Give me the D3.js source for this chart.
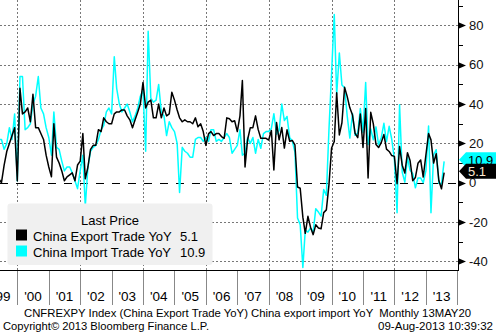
<!DOCTYPE html>
<html><head><meta charset="utf-8">
<script src="https://cdn.jsdelivr.net/npm/d3@7"></script>
<style>html,body{margin:0;padding:0;background:#fff;} svg{display:block;}</style>
</head><body>
<svg id="c" width="496" height="334"></svg>
<script>
// Monthly series, first value = May 1999, last value = Jul 2013 (plotted at month end)
const startYear = 1999, startMonth = 4;
const exportYoY = [
 2,0,9,16,20,24,28,1,
 48,35,36,38,31,45,28,28,25,22,14,8,
 3,30,13,10,6,1,3,4,5,1,9,11,
 25,2,8,17,19,19,27,26,33,31,30,30,
 35,36,36,37,37,34,32,28,32,36,40,51,
 38,41,42,33,33,40,33,38,34,35,46,42,
 37,33,31,32,31,31,30,33,28.5,30,26,19,
 25,26,24,25,25,23.5,22.6,33,32.5,31,31.5,26,
 34,52,8,22,28,28,34,27,22.6,22.6,22.6,21.7,
 26.6,6.5,30.6,21.8,28.1,17.6,26.9,21.1,21.5,19.2,-2.2,-2.8,
 -17.5,-25.7,-17.1,-22.6,-26.4,-21.4,-23.0,-23.4,-15.2,-13.8,-1.2,17.7,
 21.0,45.7,24.3,30.5,48.5,43.9,38.1,34.4,25.1,22.9,34.9,17.9,
 37.7,2.4,35.8,29.9,19.4,17.9,20.4,24.5,17.1,15.9,13.8,13.4,
 -0.5,18.4,8.9,4.9,15.3,11.3,1.0,2.7,9.9,11.6,2.9,14.1,
 25.0,21.8,10.0,14.7,1.0,-3.1,5.1
];
const importYoY = [
 22,22,17,20,28,22,35,1,
 54,54,27,28,30,40,44,54,38,35,28,23,
 14,36,18,17,11,6,8,8,5,1,-3,6,
 14,-12,8,16,18,19,22,27,29,36,38,35,
 64,48,40,36,38,40,36,31,34,38,44,47,
 16,77,43,41,42,50,36,34,24,31,28,26,
 20,-5,18,16,15,13,13,22,23,23,21,23,
 21,27,27,21,22,21,23,25,23,15,17,19,
 27,14,15,23,20,23,15,22,17.5,25,26,26,
 27.6,35.1,24.6,26.5,40.0,31.6,33.7,22.9,21.3,15.6,-17.9,-21.3,
 -43.1,-24.1,-25.1,-23.0,-25.2,-13.2,-14.9,-17.0,-3.5,-6.4,26.7,55.9,
 85.5,44.7,66.0,49.7,48.3,34.1,22.7,35.2,24.1,25.3,37.7,25.6,
 51.0,19.4,27.3,21.8,28.4,19.3,22.9,30.2,20.9,28.7,22.1,11.8,
 -15.3,39.6,5.3,0.3,12.7,6.3,4.7,-2.6,2.4,2.4,0.0,6.0,
 28.8,-15.2,14.1,16.8,-0.3,-0.7,10.9
];
const yearLabels = ["'99","'00","'01","'02","'03","'04","'05","'06","'07","'08","'09","'10","'11","'12","'13"];
const yTicks = [80,60,40,20,0,-20,-40];
const seriesNames = ["China Export Trade YoY","China Import Trade YoY"];
const seriesColors = ["#000000","#00ffff"];

const svg = d3.select("#c");
const plotL = 0, plotR = 458, plotT = 0, plotB = 270;
const x = d3.scaleTime().domain([new Date(2000,0,1), new Date(2014,0,1)]).range([17.3, 457.3]);
const y = d3.scaleLinear().domain([-40, 80]).range([261.4, 25.4]);
const dateOf = i => new Date(startYear, startMonth + i + 1, 1);
const font = "'Liberation Sans', Arial, sans-serif";

svg.append("defs").append("clipPath").attr("id","clip")
  .append("rect").attr("x",plotL).attr("y",plotT).attr("width",plotR-plotL).attr("height",plotB-plotT);

// horizontal gridlines
const g = svg.append("g");
yTicks.filter(v => v !== 0).forEach(v => {
  const yy = Math.round(y(v)) + 0.5;
  g.append("line").attr("x1",plotL).attr("x2",plotR).attr("y1",yy).attr("y2",yy)
    .attr("stroke","#777").attr("stroke-dasharray","2,2");
});
// vertical gridlines every two years
d3.range(2000, 2014, 2).forEach(yr => {
  const xx = Math.round(x(new Date(yr,0,1))) + 0.5;
  g.append("line").attr("x1",xx).attr("x2",xx).attr("y1",plotT).attr("y2",plotB)
    .attr("stroke","#777").attr("stroke-dasharray","2,2");
});
// zero line
g.append("line").attr("x1",plotL).attr("x2",plotR).attr("y1",Math.round(y(0))+0.5).attr("y2",Math.round(y(0))+0.5)
  .attr("stroke","#000").attr("stroke-dasharray","8,8");

// series
const line = d3.line().x((d,i) => x(dateOf(i))).y(d => y(d));
const lg = svg.append("g").attr("clip-path","url(#clip)");
lg.append("path").datum(importYoY).attr("d",line).attr("fill","none")
  .attr("stroke",seriesColors[1]).attr("stroke-width",1.5).attr("stroke-linejoin","round");
lg.append("path").datum(exportYoY).attr("d",line).attr("fill","none")
  .attr("stroke",seriesColors[0]).attr("stroke-width",1.5).attr("stroke-linejoin","round");

// axes lines
svg.append("line").attr("x1",plotR+0.5).attr("x2",plotR+0.5).attr("y1",0).attr("y2",plotB+1).attr("stroke","#000");
svg.append("line").attr("x1",0).attr("x2",plotR+1).attr("y1",plotB+0.5).attr("y2",plotB+0.5).attr("stroke","#000");

// right axis ticks
d3.range(-40, 91, 10).forEach(v => {
  const yy = Math.round(y(v)) + 0.5;
  if (v % 20 === 0) {
    svg.append("path").attr("d",`M${plotR+1},${yy-3}L${plotR+8},${yy}L${plotR+1},${yy+3}Z`).attr("fill","#000");
  } else {
    svg.append("line").attr("x1",plotR+1).attr("x2",plotR+5).attr("y1",yy).attr("y2",yy).attr("stroke","#000");
  }
});
yTicks.forEach(v => {
  svg.append("text").attr("x",469).attr("y",y(v)+4.5).text(v)
    .attr("font-family",font).attr("font-size",13).attr("fill","#111");
});

// bottom axis ticks and labels
d3.range(1999, 2015).forEach(yr => {
  const xx = Math.round(x(new Date(yr,0,1))) + 0.5;
  svg.append("line").attr("x1",xx).attr("x2",xx).attr("y1",plotB+1).attr("y2",305).attr("stroke","#888");
});
yearLabels.forEach((lab, i) => {
  const yr = 1999 + i;
  const xm = (x(new Date(yr,0,1)) + x(new Date(yr+1,0,1))) / 2;
  svg.append("text").attr("x",xm).attr("y",301).attr("text-anchor","middle").text(lab)
    .attr("font-family",font).attr("font-size",13.5).attr("fill","#000");
});

// value tags
function tag(v, fill, txtFill) {
  const yc = y(v) - 1.5;
  svg.append("path").attr("d",`M${plotR+1},${yc}L${plotR+8},${yc-7.5}L496,${yc-7.5}L496,${yc+7.5}L${plotR+8},${yc+7.5}Z`).attr("fill",fill);
  svg.append("text").attr("x",468).attr("y",yc+5).text(v.toFixed(1))
    .attr("font-family",font).attr("font-size",13).attr("fill",txtFill);
}
tag(importYoY[importYoY.length-1], seriesColors[1], "#000");
tag(exportYoY[exportYoY.length-1], seriesColors[0], "#ffe8d0");

// legend
const leg = svg.append("g");
leg.append("rect").attr("x",7.5).attr("y",203.5).attr("width",205).attr("height",61.5).attr("rx",3).attr("fill","#f0f0f0");
leg.append("text").attr("x",110).attr("y",225).attr("text-anchor","middle").text("Last Price")
  .attr("font-family",font).attr("font-size",13).attr("fill","#000");
const lastVals = [exportYoY[exportYoY.length-1], importYoY[importYoY.length-1]];
seriesNames.forEach((name, i) => {
  const yy = 229.5 + i*16;
  leg.append("rect").attr("x",16).attr("y",yy).attr("width",11).attr("height",11).attr("fill",seriesColors[i]);
  leg.append("text").attr("x",33).attr("y",yy+11).text(name)
    .attr("font-family",font).attr("font-size",13).attr("fill","#000");
  leg.append("text").attr("x",180).attr("y",yy+11).text(lastVals[i].toFixed(1))
    .attr("font-family",font).attr("font-size",13).attr("fill","#000");
});

// footer
svg.append("text").attr("x",24).attr("y",316.5).attr("textLength",447).attr("lengthAdjust","spacingAndGlyphs")
  .text("CNFREXPY Index (China Export Trade YoY) China export import YoY  Monthly 13MAY20")
  .attr("font-family",font).attr("font-size",11.5).attr("fill","#000").attr("xml:space","preserve");
svg.append("text").attr("x",3).attr("y",329.5).attr("textLength",206).attr("lengthAdjust","spacingAndGlyphs")
  .text("Copyright\u00A9 2013 Bloomberg Finance L.P.")
  .attr("font-family",font).attr("font-size",11.5).attr("fill","#000");
svg.append("text").attr("x",378).attr("y",329.5).attr("textLength",115).attr("lengthAdjust","spacingAndGlyphs")
  .text("09-Aug-2013 10:39:32")
  .attr("font-family",font).attr("font-size",11.5).attr("fill","#000");
</script>
</body></html>
